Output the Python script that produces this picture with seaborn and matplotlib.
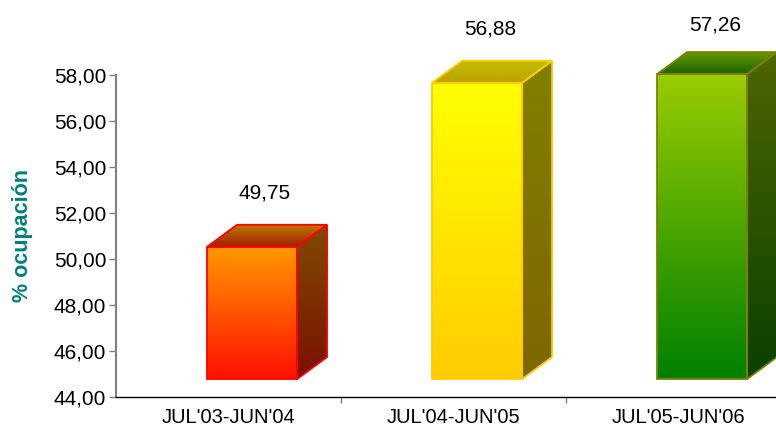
import numpy as np
import pandas as pd
import matplotlib
matplotlib.use("Agg")
import matplotlib.pyplot as plt
from matplotlib.patches import Polygon
from matplotlib.colors import LinearSegmentedColormap
import seaborn as sns

# ---- data ----
periods = ["JUL'03-JUN'04", "JUL'04-JUN'05", "JUL'05-JUN'06"]
occupancy = [49.75, 56.88, 57.26]
value_labels = ["49,75", "56,88", "57,26"]
y_ticks = [44, 46, 48, 50, 52, 54, 56, 58]
y_tick_labels = ["44,00", "46,00", "48,00", "50,00", "52,00", "54,00", "56,00", "58,00"]

# colours: (front top, front bottom, side top, side bottom, roof back, roof front, edge)
bar_styles = [
    ("#FF9900", "#FF1000", "#804C00", "#7A1000", "#C07800", "#A02000", "#FF0000"),
    ("#FFFF00", "#FFCC00", "#808000", "#806600", "#C0C000", "#C0A000", "#FFCC00"),
    ("#99CC00", "#008000", "#4D6600", "#0A4000", "#6B9900", "#1A6600", "#808000"),
]

sns.set_theme(style="white")
plt.rcParams["font.family"] = ["Liberation Sans", "DejaVu Sans"]

fig = plt.figure(figsize=(7.76, 4.32), dpi=100)
ax = fig.add_axes([116 / 776, 35 / 432, 675 / 776, 322 / 432])

df = pd.DataFrame({"period": periods, "occ": occupancy})
sns.barplot(data=df, x="period", y="occ", width=0.4, ax=ax, color="white")

ymin = 44.0
lift = 0.78      # 3-D front face lift (data units)
xshift = 0.105   # 3-D front face horizontal shift
dx, dy = 0.133, 0.957  # depth offset

def grad_img(c_top, c_bot):
    cmap = LinearSegmentedColormap.from_list("g", [c_bot, c_top])
    return cmap, np.linspace(0, 1, 256).reshape(-1, 1)

for p, v, lab, st in zip(ax.patches, occupancy, value_labels, bar_styles):
    ftop, fbot, stop, sbot, rback, rfront, edge = st
    x0 = p.get_x() + xshift
    w = p.get_width()
    x1 = x0 + w
    y0 = ymin + lift
    y1 = v + lift
    p.set_x(x0)
    p.set_y(y0)
    p.set_height(v - ymin)
    p.set_facecolor("none")
    p.set_edgecolor("none")

    front = Polygon([(x0, y0), (x1, y0), (x1, y1), (x0, y1)],
                    closed=True, facecolor="none", edgecolor="none", transform=ax.transData)
    side = Polygon([(x1, y0), (x1 + dx, y0 + dy), (x1 + dx, y1 + dy), (x1, y1)],
                   closed=True, facecolor="none", edgecolor="none", transform=ax.transData)
    roof = Polygon([(x0, y1), (x0 + dx, y1 + dy), (x1 + dx, y1 + dy), (x1, y1)],
                   closed=True, facecolor="none", edgecolor="none", transform=ax.transData)

    for poly, (ct, cb), ext in (
        (front, (ftop, fbot), [x0, x1, y0, y1]),
        (side, (stop, sbot), [x1, x1 + dx, y0, y1 + dy]),
        (roof, (rback, rfront), [x0, x1 + dx, y1, y1 + dy]),
    ):
        cmap, arr = grad_img(ct, cb)
        im = ax.imshow(arr, cmap=cmap, origin="lower", aspect="auto",
                       extent=ext, zorder=2, interpolation="bilinear")
        im.set_clip_path(poly)
        im.set_clip_box(fig.bbox)

    # edges
    for poly in ([(x0, y0), (x1, y0), (x1, y1), (x0, y1)],
                 [(x1, y0), (x1 + dx, y0 + dy), (x1 + dx, y1 + dy), (x1, y1)],
                 [(x0, y1), (x0 + dx, y1 + dy), (x1 + dx, y1 + dy), (x1, y1)]):
        ax.add_patch(Polygon(poly, closed=True, facecolor="none", edgecolor=edge,
                             linewidth=1.3, zorder=3, joinstyle="miter", clip_on=False))

    # value label
    ly = min(v + 3.1, 60.17)
    ax.text((x0 + x1 + dx) / 2 - 0.01, ly, lab, ha="center", va="center",
            fontsize=15, color="black", clip_on=False)

ax.set_xlim(-0.5, 2.5)
ax.set_ylim(44, 58)
ax.set_yticks(y_ticks)
ax.set_yticklabels(y_tick_labels, fontsize=15, color="black")
ax.set_xticks(range(len(periods)))
ax.set_xticklabels(periods, fontsize=14.5, color="black")
ax.set_xticks([0.5, 1.5], minor=True)
ax.tick_params(axis="x", which="major", length=0, pad=8)
ax.tick_params(axis="x", which="minor", length=4, color="#808080", width=1, direction="out", bottom=True)
ax.tick_params(axis="y", which="major", length=5, color="#808080", width=1, pad=2, direction="out", left=True)
ax.set_xlabel("")
ax.set_ylabel("% ocupación", fontsize=15.5, fontweight="bold", color="#008080", labelpad=15)

for s in ("top", "right"):
    ax.spines[s].set_visible(False)
ax.spines["left"].set_color("#808080")
ax.spines["left"].set_linewidth(1.5)
ax.spines["bottom"].set_color("black")
ax.spines["bottom"].set_linewidth(1.0)
ax.set_facecolor("white")
fig.patch.set_facecolor("white")

fig.savefig("out.png", dpi=100)
